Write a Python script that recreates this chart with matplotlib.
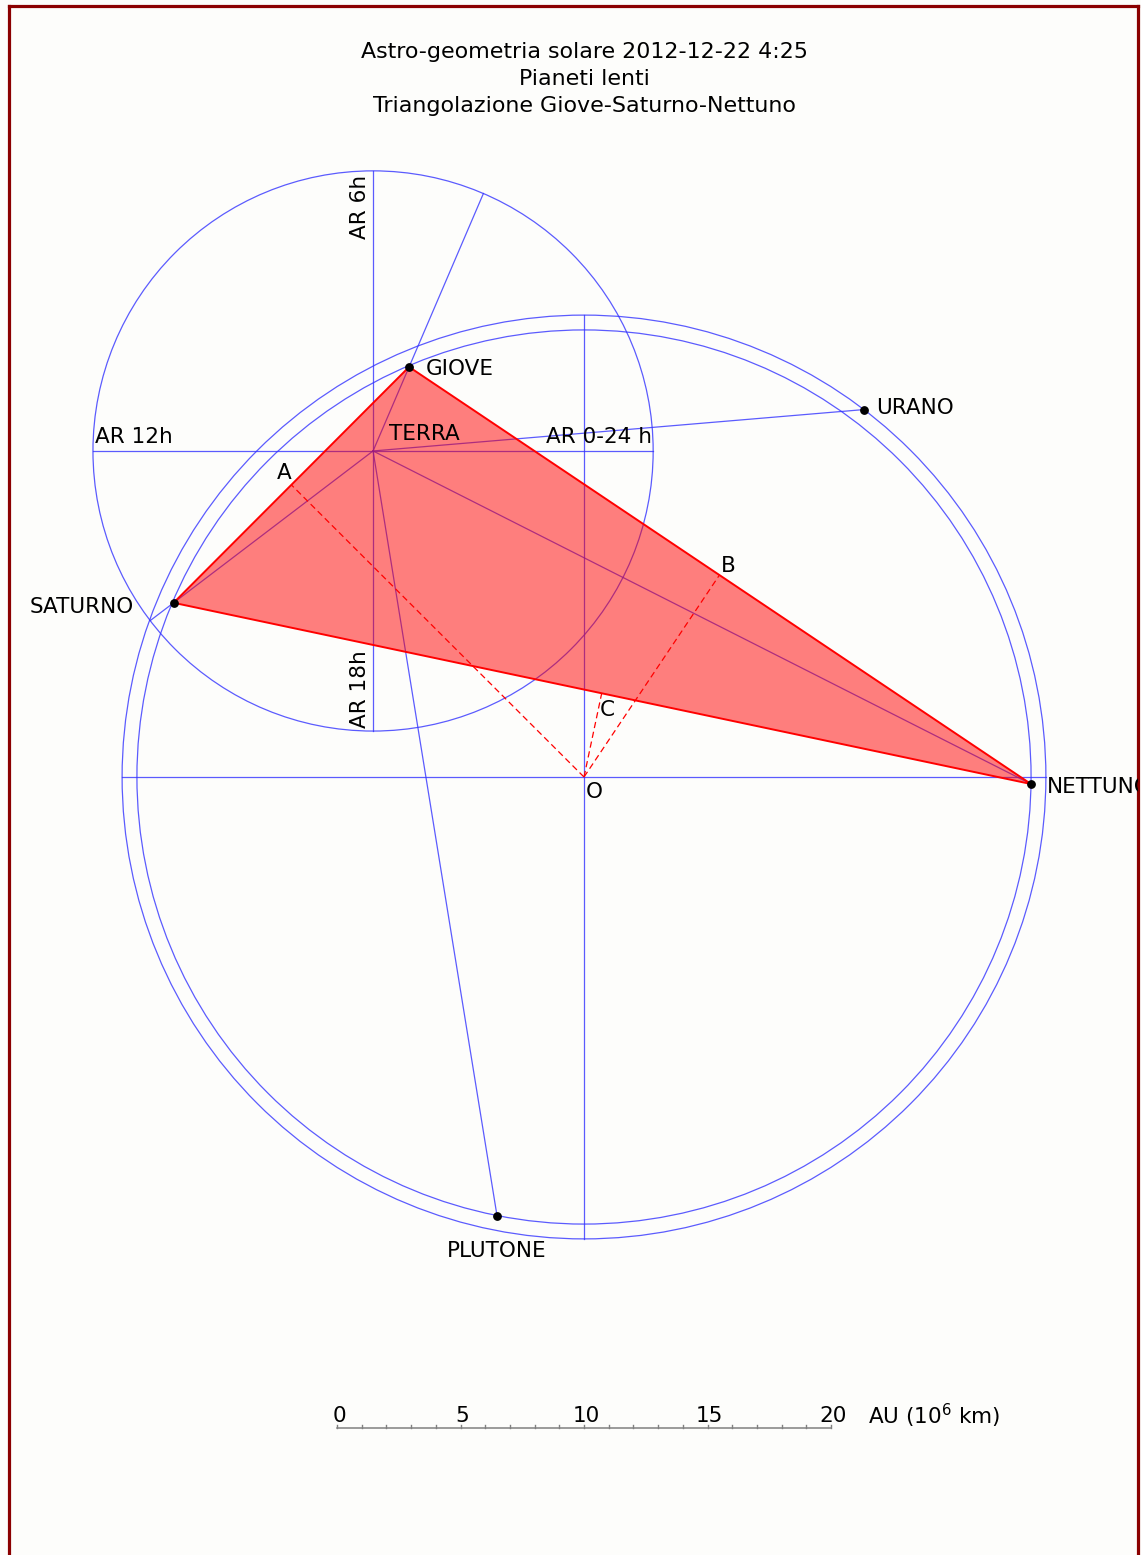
import numpy as np
import matplotlib
matplotlib.use('Agg')
import matplotlib.pyplot as plt
from matplotlib.patches import Circle, Polygon

# dati (unita' della barra di scala, origine = Sole)
pianeti = ['GIOVE', 'SATURNO', 'URANO', 'NETTUNO', 'PLUTONE']
angoli = [113.1, 157.0, 52.7, -0.9, 258.8]      # gradi
raggi = [18.05, 18.05, 18.7, 18.1, 18.12]
orbite = [18.1, 18.7]
terra_xy = (-8.54, 13.2)
raggio_terra = 11.34
triangolo = ['GIOVE', 'SATURNO', 'NETTUNO']
piedi = ['A', 'B', 'C']
scala_tacche = list(range(0, 21))
scala_etichette = [0, 5, 10, 15, 20]
titolo = ['Astro-geometria solare 2012-12-22 4:25', 'Pianeti lenti',
          'Triangolazione Giove-Saturno-Nettuno']

# offset delle etichette in pixel (dx, dy verso l'alto)
off_pianeti = {'GIOVE': (17, -2, 'left'), 'SATURNO': (-40, -4, 'right'),
               'URANO': (12, 2, 'left'), 'NETTUNO': (16, -3, 'left'),
               'PLUTONE': (0, -35, 'center')}
off_piedi = {'A': (-7, 12), 'B': (9, 9), 'C': (6, -17)}

W, H = 1141, 1555
PX = 24.7             # pixel per unita'
OX, OY = 584, 777     # posizione del Sole in pixel
BLU = '#3333ff'
FS = 15.5

fig = plt.figure(figsize=(W / 100, H / 100), dpi=100, facecolor='#fdfdfb')
ax = fig.add_axes([8.5 / W, 0, 1129 / W, 1549 / H])
ax.set_facecolor('#fdfdfb')
ax.set_xlim((8.5 - OX) / PX, (1137.5 - OX) / PX)
ax.set_ylim((OY - H) / PX, (OY - 6) / PX)
ax.set_xticks([])
ax.set_yticks([])
for lato in ['left', 'top', 'right']:
    ax.spines[lato].set_color('#8b0000')
    ax.spines[lato].set_linewidth(2.3)
ax.spines['bottom'].set_visible(False)

pos = {}
for nome, a, r in zip(pianeti, angoli, raggi):
    t = np.radians(a)
    pos[nome] = np.array([r * np.cos(t), r * np.sin(t)])
terra = np.array(terra_xy)

# orbite e assi
for r in orbite:
    ax.add_patch(Circle((0, 0), r, fill=False, ec=BLU, lw=0.9, alpha=0.8, zorder=1))
R = max(orbite)
ax.plot([-R, R], [0, 0], color=BLU, lw=0.9, alpha=0.8, zorder=1)
ax.plot([0, 0], [-R, R], color=BLU, lw=0.9, alpha=0.8, zorder=1)

# cerchio della Terra con assi AR
ax.add_patch(Circle(terra, raggio_terra, fill=False, ec=BLU, lw=0.9, alpha=0.8, zorder=1))
ax.plot([terra[0] - raggio_terra, terra[0] + raggio_terra], [terra[1]] * 2,
        color=BLU, lw=0.9, alpha=0.8, zorder=1)
ax.plot([terra[0]] * 2, [terra[1] - raggio_terra, terra[1] + raggio_terra],
        color=BLU, lw=0.9, alpha=0.8, zorder=1)

# linee Terra -> pianeti
for nome in pianeti:
    d = pos[nome] - terra
    lung = np.hypot(*d)
    fine = terra + d / lung * max(lung, raggio_terra)
    ax.plot([terra[0], fine[0]], [terra[1], fine[1]], color=BLU, lw=0.9,
            alpha=0.8, zorder=1)

# triangolo
vert = np.array([pos[n] for n in triangolo])
ax.add_patch(Polygon(vert, closed=True, fc=(1, 0, 0, 0.5), ec='red', lw=1.4, zorder=3))

# perpendicolari dal Sole ai lati
lati = [(vert[1], vert[0]), (vert[0], vert[2]), (vert[1], vert[2])]
for lettera, (p, q) in zip(piedi, lati):
    u = (q - p) / np.hypot(*(q - p))
    f = p + np.dot(-p, u) * u
    ax.plot([0, f[0]], [0, f[1]], color='red', lw=0.9, ls=(0, (5, 3)), zorder=4)
    dx, dy = off_piedi[lettera]
    ax.annotate(lettera, f, xytext=(dx, dy), textcoords='offset pixels',
                ha='center', va='center', fontsize=FS)

# pianeti
for nome in pianeti:
    p = pos[nome]
    ax.plot(p[0], p[1], 'o', color='black', ms=5.3, zorder=5)
    dx, dy, ha = off_pianeti[nome]
    t = ax.annotate(nome, p, xytext=(dx, dy), textcoords='offset pixels',
                    ha=ha, va='center', fontsize=FS, annotation_clip=False)
    t.set_clip_on(True)
    t.set_clip_box(ax.bbox)

ax.annotate('TERRA', terra, xytext=(16, 17), textcoords='offset pixels',
            ha='left', va='center', fontsize=FS)
ax.annotate('AR 12h', (terra[0] - raggio_terra, terra[1]), xytext=(2, 14),
            textcoords='offset pixels', ha='left', va='center', fontsize=FS)
ax.annotate('AR 0-24 h', (terra[0] + raggio_terra, terra[1]), xytext=(-1, 14),
            textcoords='offset pixels', ha='right', va='center', fontsize=FS)
ax.annotate('AR 6h', (terra[0], terra[1] + raggio_terra), xytext=(-3, -4),
            textcoords='offset pixels', ha='right', va='top', rotation=90, fontsize=FS)
ax.annotate('AR 18h', (terra[0], terra[1] - raggio_terra), xytext=(-3, 3),
            textcoords='offset pixels', ha='right', va='bottom', rotation=90, fontsize=FS)
ax.annotate('O', (0, 0), xytext=(2, -15), textcoords='offset pixels',
            ha='left', va='center', fontsize=FS)

# barra di scala
x0 = -10
ys = (OY - 1428) / PX
ax.plot([x0, x0 + scala_tacche[-1]], [ys, ys], color='#808080', lw=1.1)
for k in scala_tacche:
    ax.plot([x0 + k, x0 + k], [ys, ys + 0.13], color='#808080', lw=1)
for k in scala_etichette:
    ax.text(x0 + k + 0.08, ys + 12 / PX, str(k), ha='center', va='center', fontsize=FS)
ax.text(x0 + 21.5, ys + 12 / PX, 'AU (10$^6$ km)', ha='left', va='center', fontsize=FS)

# titolo
for i, riga in enumerate(titolo):
    fig.text(OX / W, 1 - (52 + 27 * i) / H, riga, ha='center', va='center', fontsize=15.9)

fig.savefig('out.png', dpi=100, facecolor=fig.get_facecolor())
